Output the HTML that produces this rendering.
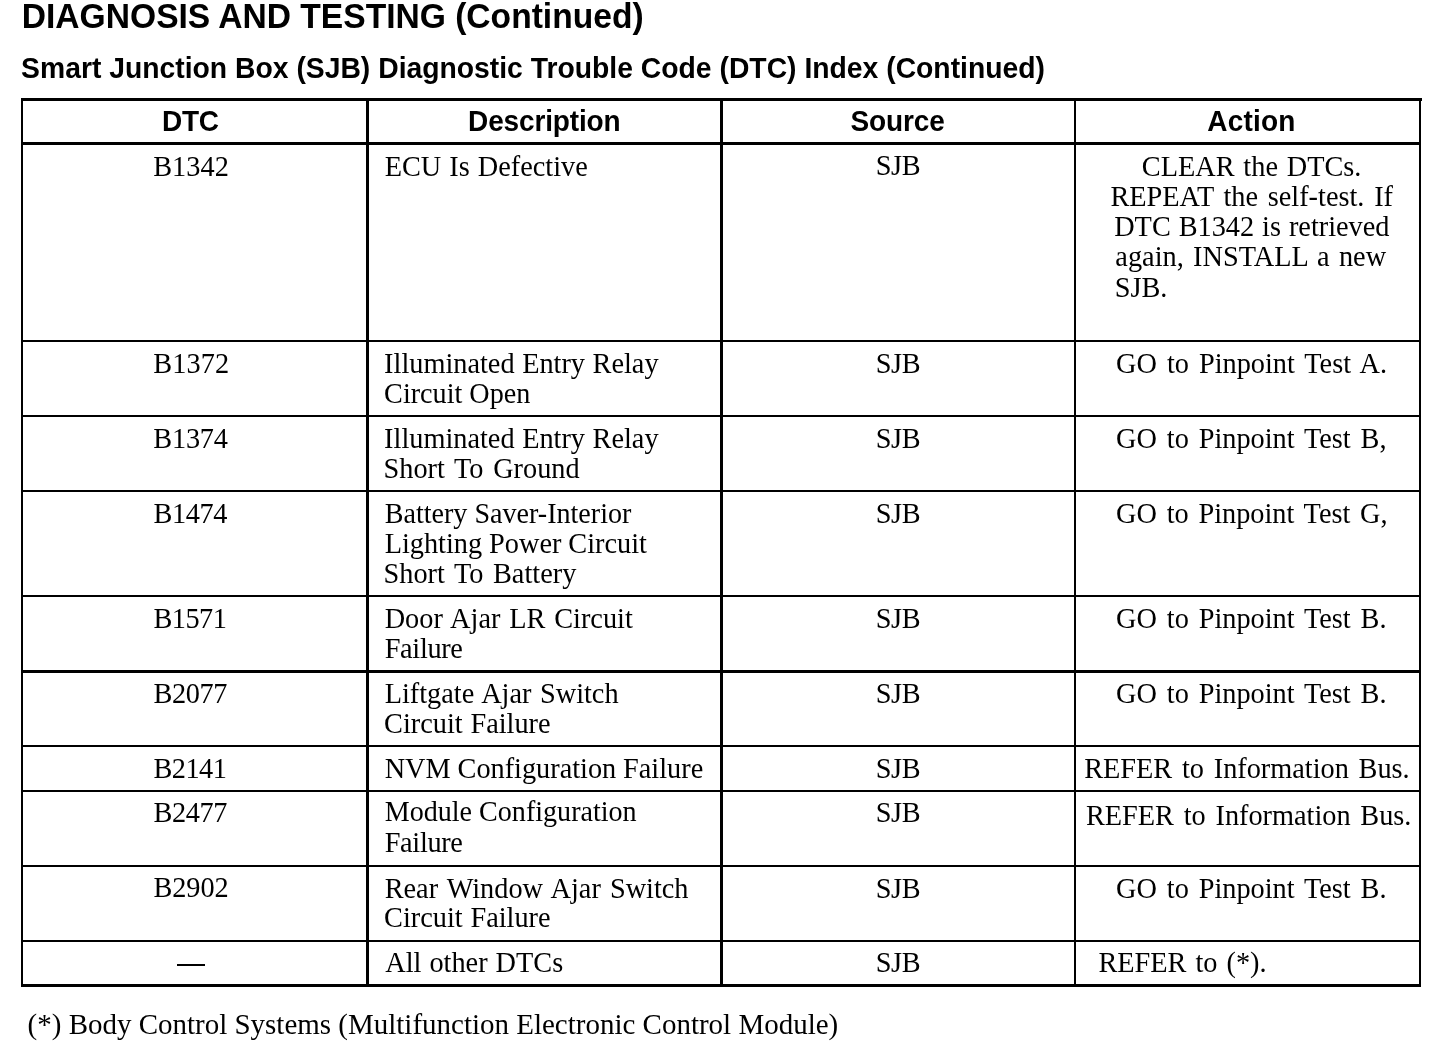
<!DOCTYPE html><html><head><meta charset="utf-8"><style>html,body{margin:0;padding:0;background:#fff;width:1456px;height:1052px;overflow:hidden}svg{display:block;will-change:transform}</style></head><body>
<svg width="1456" height="1052" viewBox="0 0 1456 1052">
<rect x="0" y="0" width="1456" height="1052" fill="#fff"/>
<rect x="21" y="98" width="1401" height="3" fill="#000"/>
<rect x="21" y="142" width="1400" height="3" fill="#000"/>
<rect x="21" y="340" width="1400" height="2" fill="#000"/>
<rect x="21" y="415" width="1400" height="2" fill="#000"/>
<rect x="21" y="490" width="1400" height="2" fill="#000"/>
<rect x="21" y="595" width="1400" height="2" fill="#000"/>
<rect x="21" y="670" width="1400" height="3" fill="#000"/>
<rect x="21" y="745" width="1400" height="2" fill="#000"/>
<rect x="21" y="790" width="1400" height="2" fill="#000"/>
<rect x="21" y="865" width="1400" height="2" fill="#000"/>
<rect x="21" y="940" width="1400" height="2" fill="#000"/>
<rect x="21" y="984" width="1400" height="3" fill="#000"/>
<rect x="21" y="98" width="2" height="889" fill="#000"/>
<rect x="366" y="98" width="3" height="889" fill="#000"/>
<rect x="720" y="98" width="3" height="889" fill="#000"/>
<rect x="1074" y="98" width="2" height="889" fill="#000"/>
<rect x="1419" y="98" width="2" height="889" fill="#000"/>
<rect x="177" y="964" width="28" height="2" fill="#000"/>
<g transform="translate(21.78,28.00) scale(1.0000,1.04)"><text x="0" y="0" font-family="&quot;Liberation Sans&quot;, sans-serif" font-weight="bold" font-size="33.6" style="word-spacing:-0.05px">DIAGNOSIS AND TESTING (Continued)</text></g>
<g transform="translate(21.12,78.40) scale(1.0000,1.06)"><text x="0" y="0" font-family="&quot;Liberation Sans&quot;, sans-serif" font-weight="bold" font-size="28.3" style="word-spacing:0.05px">Smart Junction Box (SJB) Diagnostic Trouble Code (DTC) Index (Continued)</text></g>
<g transform="translate(162.07,131.00) scale(1.0000,1.05)"><text x="0" y="0" font-family="&quot;Liberation Sans&quot;, sans-serif" font-weight="bold" font-size="28.0" style="letter-spacing:-0.27px">DTC</text></g>
<g transform="translate(468.07,131.00) scale(1.0000,1.05)"><text x="0" y="0" font-family="&quot;Liberation Sans&quot;, sans-serif" font-weight="bold" font-size="28.0" style="letter-spacing:-0.14px">Description</text></g>
<g transform="translate(850.48,131.00) scale(1.0000,1.05)"><text x="0" y="0" font-family="&quot;Liberation Sans&quot;, sans-serif" font-weight="bold" font-size="28.0" style="letter-spacing:-0.09px">Source</text></g>
<g transform="translate(1207.34,131.00) scale(1.0000,1.05)"><text x="0" y="0" font-family="&quot;Liberation Sans&quot;, sans-serif" font-weight="bold" font-size="28.0" style="letter-spacing:0.21px">Action</text></g>
<g transform="translate(153.23,175.50) scale(1.0000,1.06)"><text x="0" y="0" font-family="&quot;Liberation Serif&quot;, serif" font-weight="normal" font-size="28.3" style="letter-spacing:0.02px">B1342</text></g>
<g transform="translate(384.68,175.50) scale(1.0000,1.06)"><text x="0" y="0" font-family="&quot;Liberation Serif&quot;, serif" font-weight="normal" font-size="28.3" style="word-spacing:0.98px">ECU Is Defective</text></g>
<g transform="translate(875.70,175.40) scale(1.0000,1.06)"><text x="0" y="0" font-family="&quot;Liberation Serif&quot;, serif" font-weight="normal" font-size="28.3" style="letter-spacing:-0.32px">SJB</text></g>
<g transform="translate(1141.87,175.50) scale(1.0000,1.06)"><text x="0" y="0" font-family="&quot;Liberation Serif&quot;, serif" font-weight="normal" font-size="28.3" style="word-spacing:1.68px">CLEAR the DTCs.</text></g>
<g transform="translate(1110.43,205.50) scale(1.0000,1.06)"><text x="0" y="0" font-family="&quot;Liberation Serif&quot;, serif" font-weight="normal" font-size="28.3" style="word-spacing:2.69px">REPEAT the self-test. If</text></g>
<g transform="translate(1114.18,235.50) scale(1.0000,1.06)"><text x="0" y="0" font-family="&quot;Liberation Serif&quot;, serif" font-weight="normal" font-size="28.3" style="word-spacing:0.86px">DTC B1342 is retrieved</text></g>
<g transform="translate(1115.37,266.00) scale(1.0000,1.06)"><text x="0" y="0" font-family="&quot;Liberation Serif&quot;, serif" font-weight="normal" font-size="28.3" style="word-spacing:2.29px">again, INSTALL a new</text></g>
<g transform="translate(1114.80,296.50) scale(1.0000,1.06)"><text x="0" y="0" font-family="&quot;Liberation Serif&quot;, serif" font-weight="normal" font-size="28.3" style="letter-spacing:-0.08px">SJB.</text></g>
<g transform="translate(153.18,373.00) scale(1.0000,1.06)"><text x="0" y="0" font-family="&quot;Liberation Serif&quot;, serif" font-weight="normal" font-size="28.3" style="letter-spacing:0.12px">B1372</text></g>
<g transform="translate(384.12,372.75) scale(1.0000,1.06)"><text x="0" y="0" font-family="&quot;Liberation Serif&quot;, serif" font-weight="normal" font-size="28.3" style="word-spacing:0.50px">Illuminated Entry Relay</text></g>
<g transform="translate(384.12,402.50) scale(0.9951,1.06)"><text x="0" y="0" font-family="&quot;Liberation Serif&quot;, serif" font-weight="normal" font-size="28.3" style="">Circuit Open</text></g>
<g transform="translate(875.70,372.75) scale(1.0000,1.06)"><text x="0" y="0" font-family="&quot;Liberation Serif&quot;, serif" font-weight="normal" font-size="28.3" style="letter-spacing:-0.32px">SJB</text></g>
<g transform="translate(1116.12,372.75) scale(1.0000,1.06)"><text x="0" y="0" font-family="&quot;Liberation Serif&quot;, serif" font-weight="normal" font-size="28.3" style="word-spacing:2.90px">GO to Pinpoint Test A.</text></g>
<g transform="translate(153.18,447.75) scale(1.0000,1.06)"><text x="0" y="0" font-family="&quot;Liberation Serif&quot;, serif" font-weight="normal" font-size="28.3" style="letter-spacing:-0.16px">B1374</text></g>
<g transform="translate(384.12,447.50) scale(1.0000,1.06)"><text x="0" y="0" font-family="&quot;Liberation Serif&quot;, serif" font-weight="normal" font-size="28.3" style="word-spacing:0.50px">Illuminated Entry Relay</text></g>
<g transform="translate(383.55,477.50) scale(1.0000,1.06)"><text x="0" y="0" font-family="&quot;Liberation Serif&quot;, serif" font-weight="normal" font-size="28.3" style="word-spacing:2.60px">Short To Ground</text></g>
<g transform="translate(875.70,447.50) scale(1.0000,1.06)"><text x="0" y="0" font-family="&quot;Liberation Serif&quot;, serif" font-weight="normal" font-size="28.3" style="letter-spacing:-0.32px">SJB</text></g>
<g transform="translate(1116.12,447.50) scale(1.0000,1.06)"><text x="0" y="0" font-family="&quot;Liberation Serif&quot;, serif" font-weight="normal" font-size="28.3" style="word-spacing:2.78px">GO to Pinpoint Test B,</text></g>
<g transform="translate(153.43,523.00) scale(1.0000,1.06)"><text x="0" y="0" font-family="&quot;Liberation Serif&quot;, serif" font-weight="normal" font-size="28.3" style="letter-spacing:-0.35px">B1474</text></g>
<g transform="translate(384.69,522.50) scale(0.9933,1.06)"><text x="0" y="0" font-family="&quot;Liberation Serif&quot;, serif" font-weight="normal" font-size="28.3" style="">Battery Saver-Interior</text></g>
<g transform="translate(384.68,552.50) scale(1.0000,1.06)"><text x="0" y="0" font-family="&quot;Liberation Serif&quot;, serif" font-weight="normal" font-size="28.3" style="word-spacing:-0.15px">Lighting Power Circuit</text></g>
<g transform="translate(383.55,582.50) scale(1.0000,1.06)"><text x="0" y="0" font-family="&quot;Liberation Serif&quot;, serif" font-weight="normal" font-size="28.3" style="word-spacing:2.52px">Short To Battery</text></g>
<g transform="translate(875.70,522.50) scale(1.0000,1.06)"><text x="0" y="0" font-family="&quot;Liberation Serif&quot;, serif" font-weight="normal" font-size="28.3" style="letter-spacing:-0.32px">SJB</text></g>
<g transform="translate(1116.12,522.50) scale(1.0000,1.06)"><text x="0" y="0" font-family="&quot;Liberation Serif&quot;, serif" font-weight="normal" font-size="28.3" style="word-spacing:2.66px">GO to Pinpoint Test G,</text></g>
<g transform="translate(153.43,628.00) scale(1.0000,1.06)"><text x="0" y="0" font-family="&quot;Liberation Serif&quot;, serif" font-weight="normal" font-size="28.3" style="letter-spacing:-0.50px">B1571</text></g>
<g transform="translate(384.68,627.50) scale(1.0000,1.06)"><text x="0" y="0" font-family="&quot;Liberation Serif&quot;, serif" font-weight="normal" font-size="28.3" style="word-spacing:1.75px">Door Ajar LR Circuit</text></g>
<g transform="translate(384.68,658.00) scale(1.0000,1.06)"><text x="0" y="0" font-family="&quot;Liberation Serif&quot;, serif" font-weight="normal" font-size="28.3" style="letter-spacing:-0.32px">Failure</text></g>
<g transform="translate(875.70,627.50) scale(1.0000,1.06)"><text x="0" y="0" font-family="&quot;Liberation Serif&quot;, serif" font-weight="normal" font-size="28.3" style="letter-spacing:-0.32px">SJB</text></g>
<g transform="translate(1116.12,627.50) scale(1.0000,1.06)"><text x="0" y="0" font-family="&quot;Liberation Serif&quot;, serif" font-weight="normal" font-size="28.3" style="word-spacing:2.78px">GO to Pinpoint Test B.</text></g>
<g transform="translate(153.43,702.50) scale(1.0000,1.06)"><text x="0" y="0" font-family="&quot;Liberation Serif&quot;, serif" font-weight="normal" font-size="28.3" style="letter-spacing:-0.35px">B2077</text></g>
<g transform="translate(384.68,702.50) scale(1.0000,1.06)"><text x="0" y="0" font-family="&quot;Liberation Serif&quot;, serif" font-weight="normal" font-size="28.3" style="word-spacing:1.44px">Liftgate Ajar Switch</text></g>
<g transform="translate(384.12,732.50) scale(1.0000,1.06)"><text x="0" y="0" font-family="&quot;Liberation Serif&quot;, serif" font-weight="normal" font-size="28.3" style="word-spacing:0.68px">Circuit Failure</text></g>
<g transform="translate(875.70,702.50) scale(1.0000,1.06)"><text x="0" y="0" font-family="&quot;Liberation Serif&quot;, serif" font-weight="normal" font-size="28.3" style="letter-spacing:-0.32px">SJB</text></g>
<g transform="translate(1116.12,702.50) scale(1.0000,1.06)"><text x="0" y="0" font-family="&quot;Liberation Serif&quot;, serif" font-weight="normal" font-size="28.3" style="word-spacing:2.78px">GO to Pinpoint Test B.</text></g>
<g transform="translate(153.43,778.00) scale(1.0000,1.06)"><text x="0" y="0" font-family="&quot;Liberation Serif&quot;, serif" font-weight="normal" font-size="28.3" style="letter-spacing:-0.50px">B2141</text></g>
<g transform="translate(384.68,777.50) scale(1.0000,1.06)"><text x="0" y="0" font-family="&quot;Liberation Serif&quot;, serif" font-weight="normal" font-size="28.3" style="word-spacing:-0.26px">NVM Configuration Failure</text></g>
<g transform="translate(875.70,777.50) scale(1.0000,1.06)"><text x="0" y="0" font-family="&quot;Liberation Serif&quot;, serif" font-weight="normal" font-size="28.3" style="letter-spacing:-0.32px">SJB</text></g>
<g transform="translate(1084.18,777.50) scale(1.0000,1.06)"><text x="0" y="0" font-family="&quot;Liberation Serif&quot;, serif" font-weight="normal" font-size="28.3" style="word-spacing:2.66px">REFER to Information Bus.</text></g>
<g transform="translate(153.43,821.50) scale(1.0000,1.06)"><text x="0" y="0" font-family="&quot;Liberation Serif&quot;, serif" font-weight="normal" font-size="28.3" style="letter-spacing:-0.35px">B2477</text></g>
<g transform="translate(384.69,821.25) scale(0.9931,1.06)"><text x="0" y="0" font-family="&quot;Liberation Serif&quot;, serif" font-weight="normal" font-size="28.3" style="">Module Configuration</text></g>
<g transform="translate(384.68,852.00) scale(1.0000,1.06)"><text x="0" y="0" font-family="&quot;Liberation Serif&quot;, serif" font-weight="normal" font-size="28.3" style="letter-spacing:-0.32px">Failure</text></g>
<g transform="translate(875.70,822.00) scale(1.0000,1.06)"><text x="0" y="0" font-family="&quot;Liberation Serif&quot;, serif" font-weight="normal" font-size="28.3" style="letter-spacing:-0.32px">SJB</text></g>
<g transform="translate(1085.93,824.50) scale(1.0000,1.06)"><text x="0" y="0" font-family="&quot;Liberation Serif&quot;, serif" font-weight="normal" font-size="28.3" style="word-spacing:2.66px">REFER to Information Bus.</text></g>
<g transform="translate(153.43,896.75) scale(1.0000,1.06)"><text x="0" y="0" font-family="&quot;Liberation Serif&quot;, serif" font-weight="normal" font-size="28.3" style="letter-spacing:-0.07px">B2902</text></g>
<g transform="translate(384.68,897.50) scale(1.0000,1.06)"><text x="0" y="0" font-family="&quot;Liberation Serif&quot;, serif" font-weight="normal" font-size="28.3" style="word-spacing:2.03px">Rear Window Ajar Switch</text></g>
<g transform="translate(384.12,927.00) scale(1.0000,1.06)"><text x="0" y="0" font-family="&quot;Liberation Serif&quot;, serif" font-weight="normal" font-size="28.3" style="word-spacing:0.68px">Circuit Failure</text></g>
<g transform="translate(875.70,897.50) scale(1.0000,1.06)"><text x="0" y="0" font-family="&quot;Liberation Serif&quot;, serif" font-weight="normal" font-size="28.3" style="letter-spacing:-0.32px">SJB</text></g>
<g transform="translate(1116.12,897.50) scale(1.0000,1.06)"><text x="0" y="0" font-family="&quot;Liberation Serif&quot;, serif" font-weight="normal" font-size="28.3" style="word-spacing:2.78px">GO to Pinpoint Test B.</text></g>
<g transform="translate(385.25,972.00) scale(1.0000,1.06)"><text x="0" y="0" font-family="&quot;Liberation Serif&quot;, serif" font-weight="normal" font-size="28.3" style="word-spacing:0.93px">All other DTCs</text></g>
<g transform="translate(875.70,972.00) scale(1.0000,1.06)"><text x="0" y="0" font-family="&quot;Liberation Serif&quot;, serif" font-weight="normal" font-size="28.3" style="letter-spacing:-0.32px">SJB</text></g>
<g transform="translate(1098.43,972.00) scale(1.0000,1.06)"><text x="0" y="0" font-family="&quot;Liberation Serif&quot;, serif" font-weight="normal" font-size="28.3" style="word-spacing:1.94px">REFER to (*).</text></g>
<g transform="translate(27.59,1033.75) scale(0.9897,1.03)"><text x="0" y="0" font-family="&quot;Liberation Serif&quot;, serif" font-weight="normal" font-size="29.3" style="">(*) Body Control Systems (Multifunction Electronic Control Module)</text></g>
</svg></body></html>
